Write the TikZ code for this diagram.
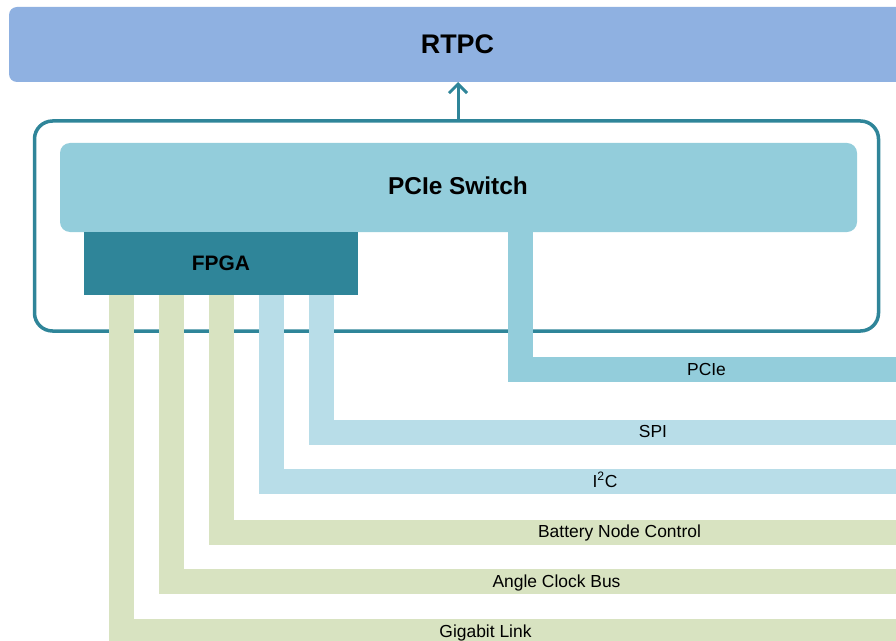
\documentclass[tikz,border=0pt]{standalone}
\usepackage{fontspec}
\setmainfont{Liberation Sans}
\usetikzlibrary{arrows.meta}
\definecolor{rtpcblue}{RGB}{143,177,225}
\definecolor{swblue}{RGB}{147,205,219}
\definecolor{teal}{RGB}{47,133,153}
\definecolor{lightblue}{RGB}{184,221,232}
\definecolor{lightgreen}{RGB}{216,227,193}
\tikzset{
  box/.style={inner sep=0pt, outer sep=0pt, anchor=north west},
  bar/.style={line width=25bp, line join=miter, line cap=butt},
  lbl/.style={inner sep=0pt, anchor=base, font=\fontsize{17.5}{20}\selectfont},
  ttl/.style={font=\bfseries}
}
\begin{document}
\begin{tikzpicture}[x=1bp,y=-1bp]
\useasboundingbox (0,0) rectangle (896,641);
% outer box
\node[box, draw=teal, line width=3.5bp, rounded corners=18bp,
      minimum width=844bp, minimum height=210bp] (outer) at (34.5,121) {};
% RTPC
\node[box, fill=rtpcblue, rounded corners=8bp, minimum width=900bp, minimum height=75bp,
      font=\bfseries\fontsize{27}{30}\selectfont] (rtpc) at (9,7) {};
\node[ttl, font=\bfseries\fontsize{27}{30}\selectfont, anchor=base, inner sep=0pt] (rtpct) at (457.5,54) {RTPC};
% PCIe switch
\node[box, fill=swblue, rounded corners=10bp, minimum width=797bp, minimum height=89bp] (sw) at (60,143) {};
\node[anchor=base, inner sep=0pt, font=\bfseries\fontsize{24.5}{28}\selectfont] (swt) at (458,195) {PCIe Switch};
% FPGA
\node[box, fill=teal, minimum width=274bp, minimum height=63bp] (fpga) at (84,232) {};
\node[anchor=base, inner sep=0pt, font=\bfseries\fontsize{21}{24}\selectfont] (fpgat) at (221,270) {FPGA};
% arrow
\coordinate (a0) at (458,121);
\draw[teal, line width=3bp, -{Straight Barb[length=9bp,width=18bp]}] (a0) -- (a0 |- rtpc.south);
% bar start / end coordinates
\coordinate (pcs) at (520.5,232);   \coordinate (pce) at (910,369.5);
\coordinate (sps) at (321.5,295);   \coordinate (spe) at (910,432.5);
\coordinate (ics) at (271.5,295);   \coordinate (ice) at (910,481.5);
\coordinate (bns) at (221.5,295);   \coordinate (bne) at (910,532);
\coordinate (acs) at (171.5,295);   \coordinate (ace) at (910,581.5);
\coordinate (gls) at (121.5,295);   \coordinate (gle) at (910,631.5);
\draw[bar, swblue] (pcs) |- (pce);
\draw[bar, lightblue] (sps) |- (spe);
\draw[bar, lightblue] (ics) |- (ice);
\draw[bar, lightgreen] (bns) |- (bne);
\draw[bar, lightgreen] (acs) |- (ace);
\draw[bar, lightgreen] (gls) |- (gle);
% labels
\node[lbl] (lpc) at (706.5,375) {PCIe};
\node[lbl] (lsp) at (653,437) {SPI};
\node[lbl] (lic) at (605,487) {I\textsuperscript{2}C};
\node[lbl] (lbn) at (619.5,537) {Battery Node Control};
\node[lbl] (lac) at (556.5,587) {Angle Clock Bus};
\node[lbl] (lgl) at (485.5,637) {Gigabit Link};
\end{tikzpicture}
\end{document}
